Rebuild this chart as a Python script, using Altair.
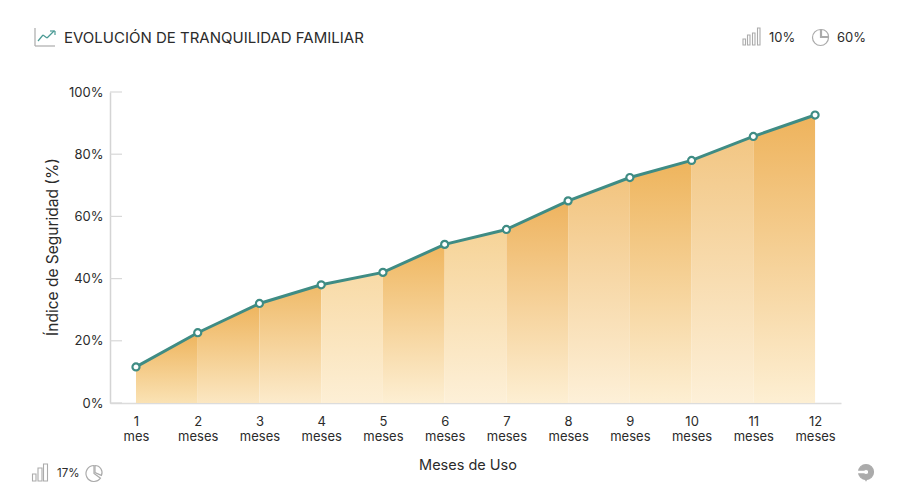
import math
import altair as alt
import pandas as pd

months = [1, 2, 3, 4, 5, 6, 7, 8, 9, 10, 11, 12]
month_words = ["mes"] + ["meses"] * 11
security = [11.6, 22.6, 32, 38, 42, 51, 55.8, 65, 72.5, 78, 85.7, 92.6]
segment_tops = ["#EEB45C", "#EEB45C", "#EFBA68", "#F8DAA6", "#EFB65F", "#F6D397",
                "#EEB35E", "#F2C47F", "#EEB45C", "#F2C683", "#EEB35C"]
segment_bottoms = ["#FAE2B4", "#FBE7C2", "#FCEBCC", "#FDEFD5", "#FDEFD3", "#FDF0D8",
                   "#FDEFD3", "#FDF0D8", "#FDEFD3", "#FDF0D8", "#FDEFD3"]
y_ticks = [0, 20, 40, 60, 80, 100]

FONT = "Inter"
INK = "#2b2b2b"
TEAL = "#3F8C84"
GREY = "#ABABAB"
X0, Y0 = 110, 92
W, H = 731, 311

x_scale = alt.Scale(domain=[0.579, 12.42], nice=False, zero=False)
y_scale = alt.Scale(domain=[0, 100], nice=False)
x_axis = alt.Axis(values=months, title="Meses de Uso", grid=False, ticks=False,
                  domainColor="#DCDCDC", domainWidth=1.5, labelPadding=12,
                  labelFont=FONT, labelFontSize=13, labelColor=INK,
                  labelLineHeight=15.5, labelAngle=0, labelOverlap=False,
                  labelBaseline="top",
                  labelExpr="[datum.value, datum.value == 1 ? 'mes' : 'meses']",
                  titleFont=FONT, titleFontSize=14.5, titleFontWeight="normal",
                  titleColor=INK, titleX=357.5, titleY=66, titleBaseline="alphabetic")
y_axis = alt.Axis(values=y_ticks, title="Índice de Seguridad (%)", grid=False, ticks=False,
                  domainColor="#D4D4D4", domainWidth=1.5, labelPadding=7,
                  labelFont=FONT, labelFontSize=13, labelColor=INK,
                  labelExpr="datum.value + '%'",
                  titleFont=FONT, titleFontSize=15.5, titleFontWeight="normal",
                  titleColor=INK, titleX=-50, titleY=154.5)
df = pd.DataFrame({"m": months, "v": security, "w": month_words})
one = pd.DataFrame({"a": [0]})
x_enc = alt.X("m:Q", scale=x_scale, axis=x_axis)
y_enc = alt.Y("v:Q", scale=y_scale, axis=y_axis)

layers = []
for i, (top, bottom) in enumerate(zip(segment_tops, segment_bottoms)):
    grad = alt.Gradient(gradient="linear", x1=0, y1=0, x2=0, y2=1,
                        stops=[alt.GradientStop(color=top, offset=0),
                               alt.GradientStop(color=bottom, offset=1)])
    layers.append(alt.Chart(df.iloc[i:i + 2]).mark_area(color=grad, line=False).encode(x=x_enc, y=y_enc))

layers.append(alt.Chart(pd.DataFrame({"v": y_ticks})).mark_rule(color="#D8D8D8", strokeWidth=1.2).encode(
    y=y_enc, x=alt.value(0), x2=alt.value(12)))
base = alt.Chart(df).encode(x=x_enc, y=y_enc)
layers.append(base.mark_line(color=TEAL, strokeWidth=3))
layers.append(base.mark_point(filled=False, fill="white", fillOpacity=1, stroke=TEAL, strokeWidth=2.2, size=50, opacity=1))


def seg(x1, y1, x2, y2, color=GREY, w=1.2):
    return alt.Chart(one).mark_rule(color=color, strokeWidth=w).encode(
        x=alt.value(x1 - X0), y=alt.value(y1 - Y0), x2=alt.value(x2 - X0), y2=alt.value(y2 - Y0))


def box(x1, y1, x2, y2):
    return alt.Chart(one).mark_rect(fill="white", stroke=GREY, strokeWidth=1.1).encode(
        x=alt.value(x1 - X0), y=alt.value(y1 - Y0), x2=alt.value(x2 - X0), y2=alt.value(y2 - Y0))


def wedge(cx, cy, t0, t1, r, r2=0, fill="white", stroke=GREY):
    return alt.Chart(one).mark_arc(theta=t0, theta2=t1, radius=r, radius2=r2, fill=fill,
                                   stroke=stroke, strokeWidth=1.2).encode(
        x=alt.value(cx - X0), y=alt.value(cy - Y0))


def label(s, x, y, size=13):
    return alt.Chart(one).mark_text(text=s, font=FONT, fontSize=size, color=INK, align="left",
                                    baseline="middle").encode(
        x=alt.value(x - X0), y=alt.value(y - Y0))


# trend icon
layers += [seg(35, 28, 35, 46), seg(35, 46, 55, 46),
           seg(38, 41, 43, 35, "#4A9A94"), seg(43, 35, 47, 38, "#4A9A94"), seg(47, 38, 54, 31, "#4A9A94"),
           seg(50, 31, 55, 31, "#4A9A94"), seg(55, 31, 55, 35, "#4A9A94")]
# top-right indicators
layers += [box(743, 39, 745.5, 45), box(747.5, 35, 750, 45), box(752.5, 33, 755, 45), box(757.5, 28, 760, 45)]
layers.append(label("10%", 769, 37.5))
layers += [wedge(820.5, 37.5, math.pi / 2, 2 * math.pi, 8), wedge(821.5, 36.5, 0, math.pi / 2, 7)]
layers.append(label("60%", 837, 37.5))
# bottom-left indicators
layers += [box(32.5, 474, 36, 481), box(38, 468, 42, 481), box(43.5, 464, 47.5, 481)]
layers.append(label("17%", 57, 473.5, 11.5))
layers += [wedge(94, 473.5, 2.2, 2 * math.pi, 8), wedge(95, 472.5, 0, 2.0, 7)]
# bottom-right return icon
layers.append(wedge(866, 472, 0, 2 * math.pi, 7.5, 2.5, GREY, GREY))
layers.append(seg(857, 472, 868, 472, "white", 2.5))
layers.append(alt.Chart(one).mark_point(shape="triangle-down", filled=True, color=GREY, size=40, opacity=1).encode(
    x=alt.value(866 - X0), y=alt.value(479 - Y0)))

chart = alt.layer(*layers).properties(
    width=W, height=H,
    autosize=alt.AutoSizeParams(type="none"),
    padding={"left": 102, "top": 84, "right": 50, "bottom": 91},
    title=alt.TitleParams("EVOLUCIÓN DE TRANQUILIDAD FAMILIAR", anchor="start", frame="group", dx=-46,
                          offset=0, dy=19, font=FONT, fontSize=15, fontWeight="normal", color=INK),
).configure_view(stroke=None)

chart.save("out.html", embed_options={"renderer": "svg", "actions": False})
